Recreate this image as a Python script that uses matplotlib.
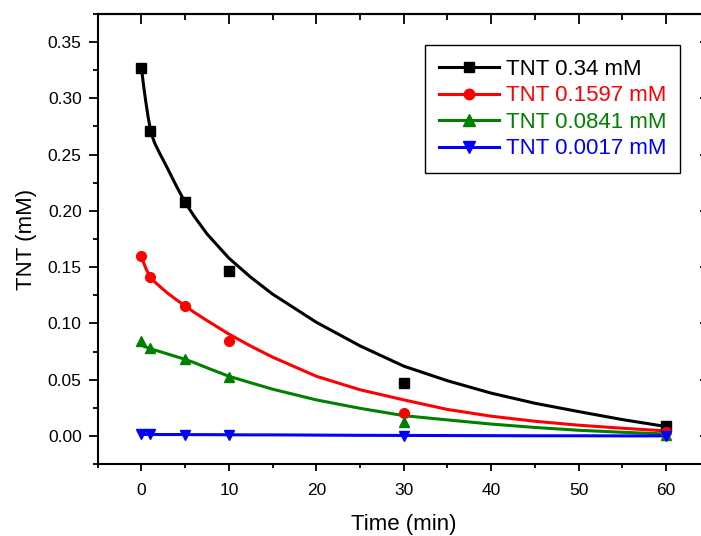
import numpy as np
import matplotlib
matplotlib.use('Agg')
import matplotlib.pyplot as plt
from matplotlib.lines import Line2D

plt.rcParams['font.family'] = ['Liberation Sans', 'DejaVu Sans']

# measured points (time in min, TNT in mM)
t_data = [0, 1, 5, 10, 30, 60]
tnt_034 = [0.327, 0.271, 0.2075, 0.147, 0.047, 0.0092]
tnt_0160 = [0.160, 0.1415, 0.1157, 0.0847, 0.0201, 0.0038]
tnt_0084 = [0.0847, 0.0778, 0.0681, 0.0521, 0.0127, 0.0012]
tnt_0002 = [0.0017, 0.0015, 0.0012, 0.0008, -0.0003, -0.0005]

# fitted curves
t_fit = [0, 0.25, 0.5, 0.75, 1, 1.25, 1.5, 2, 3, 4, 5, 6, 7.5, 10, 12.5, 15,
         20, 25, 30, 35, 40, 45, 50, 55, 60]
fit_034 = [0.327, 0.311, 0.297, 0.284, 0.2735, 0.266, 0.2605, 0.2525, 0.2375, 0.222,
           0.2075, 0.1955, 0.1795, 0.158, 0.141, 0.126, 0.101, 0.080, 0.062, 0.049,
           0.038, 0.029, 0.0216, 0.0145, 0.0083]
fit_0160 = [0.159, 0.154, 0.149, 0.145, 0.1415, 0.139, 0.137, 0.1335, 0.1268, 0.121,
            0.1155, 0.110, 0.1025, 0.0905, 0.0798, 0.070, 0.053, 0.041, 0.032, 0.0235,
            0.0175, 0.013, 0.0095, 0.0068, 0.0044]
fit_0084 = [0.0805, 0.0797, 0.079, 0.0782, 0.0775, 0.0769, 0.0763, 0.0752, 0.0728, 0.0704,
            0.068, 0.0652, 0.0605, 0.0530, 0.0472, 0.0415, 0.032, 0.0245, 0.018, 0.0142,
            0.0105, 0.0075, 0.005, 0.0032, 0.0017]
fit_0002 = [0.0013, 0.0013, 0.0013, 0.0013, 0.0013, 0.0013, 0.0013, 0.0012, 0.0012, 0.0012,
            0.0012, 0.0011, 0.0011, 0.0010, 0.0009, 0.0009, 0.0007, 0.0005, 0.0004, 0.0003,
            0.0002, 0.0001, 0.0001, 0.0, 0.0]

labels = ['TNT 0.34 mM', 'TNT 0.1597 mM', 'TNT 0.0841 mM', 'TNT 0.0017 mM']
colors = ['black', '#ff0000', '#008000', '#0000ff']
markers = ['s', 'o', '^', 'v']
msizes = [6.5, 7, 7.5, 7.5]

fig = plt.figure(figsize=(7.01, 5.36), dpi=100)
ax = fig.add_axes([0.1394, 0.1343, 0.8732, 0.8396])

handles = []
for ys, yf, c, m, ms, lab in zip([tnt_034, tnt_0160, tnt_0084, tnt_0002],
                                 [fit_034, fit_0160, fit_0084, fit_0002],
                                 colors, markers, msizes, labels):
    ax.plot(t_fit, yf, color=c, lw=2.2, zorder=2)
    ax.plot(t_data, ys, ls='none', marker=m, ms=ms, color=c, zorder=3)
    handles.append(Line2D([], [], color=c, lw=2.2, marker=m, ms=ms + 0.5, label=lab))

ax.set_xlim(-5, 65)
ax.set_ylim(-0.025, 0.375)
xt = [0, 10, 20, 30, 40, 50, 60]
yt = [0.00, 0.05, 0.10, 0.15, 0.20, 0.25, 0.30, 0.35]
ax.set_xticks(xt)
ax.set_xticks(np.arange(-5, 66, 10), minor=True)
ax.set_yticks(yt)
ax.set_yticks(np.arange(-0.025, 0.38, 0.05), minor=True)
ax.set_yticklabels(['%.2f' % v for v in yt])

for s in ax.spines.values():
    s.set_linewidth(1.5)
ax.spines['right'].set_visible(False)

ax.tick_params(axis='y', which='major', direction='out', length=6.5, width=1.3, pad=5, labelsize=12.5)
ax.tick_params(axis='y', which='minor', direction='out', length=3.5, width=1.3)
ax.tick_params(axis='x', which='major', direction='out', length=5, width=1.3, pad=9, labelsize=12.5)
ax.tick_params(axis='x', which='minor', direction='out', length=3, width=1.3)

# mirrored ticks pointing inward on top and right
top = ax.secondary_xaxis('top')
top.set_xticks(xt)
top.set_xticks(np.arange(-5, 66, 10), minor=True)
top.tick_params(which='major', direction='in', length=7, width=1.3, labeltop=False)
top.tick_params(which='minor', direction='in', length=4, width=1.3)
top.spines['top'].set_linewidth(1.5)
right = ax.secondary_yaxis('right')
right.set_yticks(yt)
right.set_yticks(np.arange(-0.025, 0.38, 0.05), minor=True)
right.tick_params(which='major', direction='in', length=7, width=1.3, labelright=False)
right.tick_params(which='minor', direction='in', length=4, width=1.3)
right.spines['right'].set_visible(False)

ax.set_xlabel('Time (min)', fontsize=16, labelpad=11)
ax.set_ylabel('TNT (mM)', fontsize=16, labelpad=8)

leg = ax.legend(handles=handles, loc='upper right', bbox_to_anchor=(680 / 701, 1 - 45 / 536),
                bbox_transform=fig.transFigure, fontsize=16, frameon=True, fancybox=False,
                edgecolor='black', framealpha=1, handlelength=2.7, handletextpad=0.3,
                labelspacing=0.25, borderpad=0.62, borderaxespad=0, numpoints=1,
                labelcolor='linecolor')
leg.get_frame().set_linewidth(1.0)

fig.savefig('out.png', dpi=100)
